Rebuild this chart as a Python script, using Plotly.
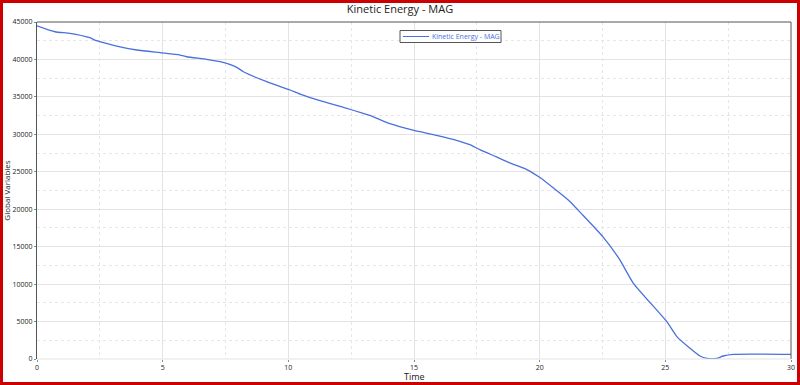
import plotly.graph_objects as go

time = [0, 0.72, 1.31, 2.1, 2.37, 3.17, 3.97, 4.9, 5.69, 5.96, 6.75, 7.28, 7.55, 7.95, 8.21,
        9.14, 10.07, 10.47, 11.26, 12.19, 12.98, 13.24, 14.04, 15.0, 15.89, 16.69, 17.22,
        17.62, 18.28, 18.81, 19.47, 20.01, 20.66, 21.19, 21.72, 22.52, 23.18, 23.73, 25.06,
        25.46, 25.98, 26.38, 26.65, 27.05, 27.3, 27.7, 30.0]
kinetic_energy = [44500, 43700, 43490, 42900, 42500, 41790, 41260, 40900, 40590, 40360, 40020,
                  39700, 39480, 38950, 38360, 37030, 35920, 35380, 34490, 33610, 32800, 32530,
                  31420, 30530, 29870, 29200, 28620, 27960, 26980, 26180, 25330, 24230, 22530,
                  21070, 19200, 16310, 13290, 10110, 4980, 2980, 1430, 400, 90, 90, 400, 620, 620]
series_name = "Kinetic Energy - MAG"

FONT = "Open Sans, Noto Sans, sans-serif"
LINE_COLOR = "#4a70dc"
L, R, T, B = 37, 9, 22, 26
W, H = 800, 385
pw, ph = W - L - R, H - T - B


def px_x(p):
    return (p - L) / pw


def px_y(p):
    return (H - B - p) / ph


fig = go.Figure()
fig.add_trace(go.Scatter(x=time, y=kinetic_energy, mode="lines", name=series_name,
                         line=dict(color=LINE_COLOR, width=1.3, shape="spline", smoothing=0.5),
                         showlegend=False))

fig.update_layout(
    width=W, height=H,
    margin=dict(l=L, r=R, t=T, b=B, autoexpand=False),
    paper_bgcolor="white", plot_bgcolor="white",
    title=dict(text="Kinetic Energy - MAG", x=0.5, xanchor="center", y=1 - 9 / H, yanchor="middle",
               font=dict(family=FONT, size=11, color="#222")),
    xaxis=dict(range=[0, 30], dtick=5, tick0=0, showgrid=True, gridcolor="#e3e3e3", gridwidth=1,
               minor=dict(dtick=2.5, showgrid=True, gridcolor="#e6e6e6", griddash="dot"),
               zeroline=False, showline=False, ticks="outside", ticklen=2, tickcolor="#888",
               tickfont=dict(family=FONT, size=7, color="#222"), automargin=False),
    yaxis=dict(range=[0, 45000], dtick=5000, tick0=0, tickformat="d", showgrid=True,
               gridcolor="#e3e3e3", gridwidth=1,
               minor=dict(dtick=2500, showgrid=True, gridcolor="#e6e6e6", griddash="dot"),
               zeroline=False, showline=True, linecolor="#555", linewidth=1, mirror=False,
               ticks="outside", ticklen=2, tickcolor="#888", automargin=False,
               tickfont=dict(family=FONT, size=7, color="#222"),
               title=dict(text="Global Variables", font=dict(family=FONT, size=8, color="#222"), standoff=0)),
)

# x axis title
fig.add_annotation(xref="paper", yref="paper", x=0.5, y=px_y(384), text="Time", showarrow=False,
                   xanchor="center", yanchor="bottom", borderpad=0,
                   font=dict(family=FONT, size=9, color="#222"))

# plot frame: top and right dark lines, light bottom line
fig.add_shape(type="line", xref="paper", yref="paper", x0=0, x1=1, y0=1, y1=1,
              line=dict(color="#555", width=1))
fig.add_shape(type="line", xref="paper", yref="paper", x0=1, x1=1, y0=0, y1=1,
              line=dict(color="#555", width=1))
fig.add_shape(type="line", xref="paper", yref="paper", x0=0, x1=1, y0=0, y1=0,
              line=dict(color="#e3e3e3", width=1))

# legend box drawn manually
fig.add_shape(type="rect", xref="paper", yref="paper",
              x0=px_x(400), x1=px_x(501), y0=px_y(42.5), y1=px_y(30.5),
              line=dict(color="#555", width=1), fillcolor="white")
fig.add_shape(type="line", xref="paper", yref="paper",
              x0=px_x(403), x1=px_x(429), y0=px_y(36.5), y1=px_y(36.5),
              line=dict(color=LINE_COLOR, width=1))
fig.add_annotation(xref="paper", yref="paper", x=px_x(431), y=px_y(36.5), text=series_name,
                   showarrow=False, xanchor="left", yanchor="middle", borderpad=0,
                   font=dict(family=FONT, size=7, color=LINE_COLOR))

# red outer border
inset = 1.5
fig.add_shape(type="rect", xref="paper", yref="paper",
              x0=(inset - L) / pw, x1=(W - inset - L) / pw,
              y0=-(B - inset) / ph, y1=(H - B - inset) / ph,
              line=dict(color="#cc0000", width=3), fillcolor="rgba(0,0,0,0)")

fig.write_html("out.html", config={"displayModeBar": False},
               post_script="document.body.style.margin='0';document.body.style.overflow='hidden';")
